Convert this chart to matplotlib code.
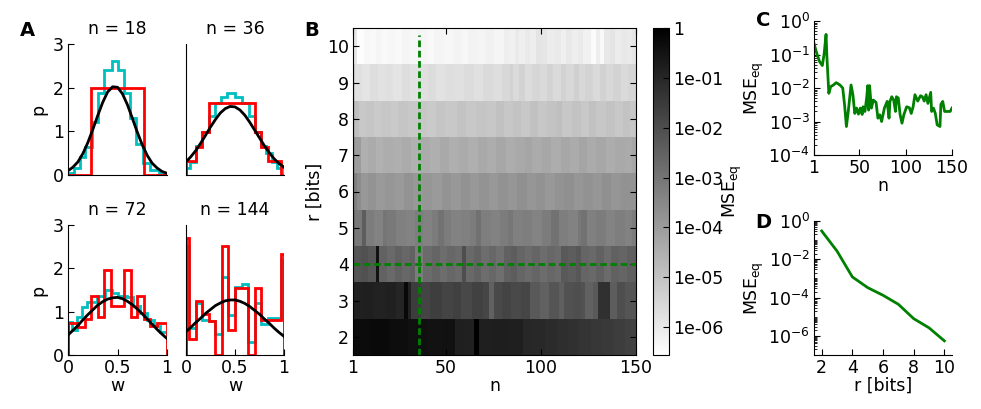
import numpy as np
import matplotlib
matplotlib.use('Agg')
import matplotlib.pyplot as plt
from matplotlib.colors import LogNorm
from matplotlib.ticker import LogLocator, NullFormatter

plt.rcParams['font.family'] = 'DejaVu Sans'
plt.rcParams['font.size'] = 12.5
plt.rcParams['xtick.direction'] = 'in'
plt.rcParams['ytick.direction'] = 'in'
plt.rcParams['xtick.major.size'] = 4
plt.rcParams['ytick.major.size'] = 4
plt.rcParams['xtick.minor.size'] = 2
plt.rcParams['ytick.minor.size'] = 2
plt.rcParams['xtick.major.pad'] = 3
plt.rcParams['ytick.major.pad'] = 3

# ---------------- panel A: distributions of w ----------------
w_grid = [0.0, 0.05, 0.1, 0.15, 0.2, 0.25, 0.3, 0.35, 0.4, 0.45, 0.5,
          0.55, 0.6, 0.65, 0.7, 0.75, 0.8, 0.85, 0.9, 0.95, 1.0]

fit18 = [0.095, 0.18, 0.30, 0.49, 0.74, 1.04, 1.36, 1.66, 1.90, 2.02, 2.01,
         1.86, 1.61, 1.30, 0.98, 0.69, 0.45, 0.27, 0.16, 0.08, 0.04]
fit36 = [0.30, 0.42, 0.56, 0.73, 0.91, 1.10, 1.27, 1.42, 1.52, 1.57, 1.56,
         1.49, 1.37, 1.21, 1.03, 0.85, 0.67, 0.51, 0.37, 0.26, 0.18]
fit72 = [0.46, 0.57, 0.68, 0.81, 0.93, 1.04, 1.15, 1.23, 1.29, 1.32, 1.33,
         1.30, 1.24, 1.16, 1.06, 0.95, 0.83, 0.71, 0.59, 0.48, 0.38]
fit144 = [0.54, 0.64, 0.75, 0.85, 0.96, 1.05, 1.14, 1.20, 1.25, 1.27, 1.27,
          1.24, 1.19, 1.12, 1.03, 0.94, 0.83, 0.73, 0.62, 0.52, 0.43]

red18_edges = [0, 0.233, 0.767, 1.0]
red18 = [0, 2.0, 0]
cyan18_edges = [0, 0.06, 0.12, 0.17, 0.24, 0.30, 0.36, 0.44, 0.50, 0.57,
                0.63, 0.69, 0.76, 0.83, 0.92, 1.0]
cyan18 = [0.04, 0.15, 0.42, 0.65, 1.22, 1.87, 2.41, 2.62, 2.41, 1.87,
          1.3, 0.71, 0.27, 0.11, 0.04]

red36_edges = [0, 0.1, 0.167, 0.233, 0.7, 0.767, 0.833, 0.967, 1.0]
red36 = [0.31, 0.65, 0.98, 1.64, 0.98, 0.65, 0.31, 0]
cyan36_edges = [0, 0.04, 0.1, 0.167, 0.233, 0.296, 0.36, 0.415, 0.5, 0.57,
                0.64, 0.7, 0.767, 0.82, 0.88, 0.93, 1.0]
cyan36 = [0.15, 0.3, 0.66, 0.99, 1.34, 1.66, 1.79, 1.88, 1.79, 1.66,
          1.34, 0.99, 0.66, 0.5, 0.3, 0.15]

red72_edges = [0, 0.1, 0.167, 0.233, 0.3, 0.367, 0.433, 0.567, 0.633, 0.7,
               0.767, 0.833, 0.9, 1.0]
red72 = [0.75, 0.65, 0.84, 1.36, 0.88, 1.96, 1.13, 1.96, 0.88, 1.36,
         0.84, 0.67, 0.75]
cyan72_edges = [0, 0.044, 0.092, 0.146, 0.193, 0.288, 0.373, 0.44, 0.508,
                0.593, 0.661, 0.729, 0.797, 0.864, 0.932, 1.0]
cyan72 = [0.77, 0.58, 0.87, 1.1, 1.23, 1.36, 1.5, 1.42, 1.37, 1.35, 1.12,
          0.96, 0.8, 0.67, 0.54]

red144_edges = [0, 0.033, 0.1, 0.167, 0.233, 0.3, 0.367, 0.433, 0.5, 0.633,
                0.7, 0.767, 0.967, 1.0]
red144 = [2.71, 0.36, 1.25, 0.95, 0.78, 0, 2.52, 0.58, 1.54, 0, 1.54, 0.8, 2.32]
cyan144_edges = [0, 0.033, 0.1, 0.167, 0.233, 0.3, 0.367, 0.433, 0.5, 0.567,
                 0.633, 0.7, 0.767, 0.833, 0.9, 0.967, 1.0]
cyan144 = [2.52, 0.62, 1.2, 0.8, 0.78, 0.48, 1.81, 0.92, 1.56, 1.64, 0.31,
           1.2, 0.72, 0.85, 0.85, 2.19]

# ---------------- panel B: log10 MSE, runs of (first n, value) per r ----------------
runs_r2 = [(1, -0.3), (10, -0.28), (20, -0.35), (30, -0.42), (40, -0.5), (48, -0.48),
           (55, -0.8), (60, -0.85), (65, -0.05), (68, -0.8), (75, -0.78), (82, -0.82),
           (91, -1.0), (97, -1.05), (103, -1.12), (109, -1.2), (115, -1.28), (121, -1.35),
           (127, -1.42), (133, -1.5), (139, -1.58), (145, -1.68)]
runs_r3 = [(1, -0.85), (6, -0.8), (12, -0.9), (18, -0.85), (24, -0.95), (28, -0.25),
           (30, -0.9), (32, -1.55), (37, -1.75), (42, -1.6), (48, -1.75), (54, -1.65),
           (58, -1.85), (64, -1.7), (70, -1.8), (73, -2.5), (76, -1.9), (80, -1.75),
           (85, -1.9), (90, -1.8), (95, -2.3), (100, -2.5), (105, -2.2), (110, -2.45),
           (113, -2.1), (118, -2.0), (122, -2.15), (124, -2.5), (128, -2.3), (131, -1.25),
           (137, -2.4), (141, -2.0), (145, -2.2)]
runs_r4 = [(1, -2.2), (5, -2.1), (9, -2.25), (13, -0.5), (15, -2.55), (19, -2.7),
           (23, -2.5), (27, -2.65), (31, -2.55), (34, -3.2), (38, -2.75), (43, -2.6),
           (47, -2.8), (51, -2.65), (55, -2.75), (59, -2.0), (61, -2.7), (65, -2.55),
           (69, -2.8), (73, -2.65), (77, -2.85), (81, -2.5), (85, -2.4), (88, -2.6),
           (92, -2.75), (96, -2.6), (100, -2.8), (104, -2.65), (108, -2.75), (111, -2.3),
           (115, -2.4), (119, -2.25), (122, -2.6), (126, -2.7), (130, -2.5), (134, -2.75),
           (138, -2.5), (142, -2.6), (146, -2.45)]
runs_r5 = [(1, -2.7), (2, -3.1), (6, -2.4), (8, -3.2), (12, -3.35), (17, -3.0),
           (19, -3.15), (24, -3.3), (29, -3.4), (34, -3.25), (38, -3.35), (43, -3.2),
           (46, -2.95), (49, -3.2), (53, -3.35), (58, -3.3), (63, -3.2), (66, -2.9),
           (69, -3.25), (74, -3.35), (79, -3.2), (83, -3.05), (86, -3.3), (91, -3.25),
           (96, -3.4), (101, -3.2), (106, -2.95), (110, -3.25), (115, -3.35), (120, -3.1),
           (122, -2.95), (125, -3.3), (130, -3.2), (135, -3.4), (140, -3.25), (145, -3.35),
           (149, -3.2)]
runs_r6 = [(1, -3.3), (3, -3.6), (5, -3.9), (9, -3.8), (13, -3.95), (18, -3.85),
           (23, -3.95), (28, -3.8), (33, -3.9), (38, -3.85), (43, -3.95), (48, -3.8),
           (53, -3.9), (58, -3.75), (63, -3.9), (68, -3.8), (73, -3.9), (78, -3.75),
           (83, -3.85), (88, -3.7), (93, -3.85), (98, -3.75), (103, -3.9), (108, -3.8),
           (113, -3.7), (118, -3.85), (123, -3.75), (128, -3.85), (133, -3.7), (138, -3.85),
           (143, -3.75), (148, -3.8)]
runs_r7 = [(1, -3.7), (2, -4.0), (5, -4.5), (9, -4.4), (13, -4.55), (17, -4.45),
           (22, -4.5), (27, -4.4), (32, -4.55), (37, -4.4), (42, -4.5), (47, -4.35),
           (52, -4.5), (57, -4.4), (62, -4.5), (67, -4.35), (72, -4.45), (77, -4.3),
           (82, -4.45), (87, -4.35), (92, -4.25), (96, -4.4), (101, -4.3), (106, -4.45),
           (111, -4.3), (116, -4.4), (121, -4.25), (125, -4.4), (130, -4.3), (135, -4.45),
           (140, -4.35), (145, -4.4), (149, -4.3)]
runs_r8 = [(1, -4.6), (2, -4.9), (4, -5.15), (8, -5.05), (12, -5.2), (16, -5.1),
           (21, -5.2), (25, -5.05), (30, -5.15), (35, -5.1), (40, -5.2), (45, -5.05),
           (50, -5.15), (56, -5.0), (61, -5.15), (66, -5.05), (72, -5.1), (77, -4.95),
           (81, -5.1), (86, -5.0), (90, -5.15), (95, -4.95), (99, -5.1), (104, -5.0),
           (109, -4.9), (112, -5.1), (117, -5.0), (122, -5.15), (126, -4.95), (130, -5.1),
           (135, -5.0), (140, -5.15), (144, -5.0), (148, -5.1)]
runs_r9 = [(1, -5.3), (2, -5.75), (6, -5.85), (10, -5.7), (14, -5.8), (18, -5.75),
           (22, -5.85), (27, -5.7), (31, -5.8), (36, -5.75), (41, -5.65), (45, -5.8),
           (50, -5.7), (55, -5.75), (60, -5.65), (65, -5.75), (70, -5.6), (75, -5.7),
           (80, -5.55), (84, -5.4), (86, -5.6), (89, -5.45), (92, -5.65), (96, -5.5),
           (100, -5.6), (104, -5.45), (107, -5.6), (111, -5.4), (114, -5.55), (118, -5.35),
           (121, -5.55), (124, -5.45), (128, -5.6), (132, -5.4), (135, -5.55), (139, -5.45),
           (143, -5.6), (147, -5.5)]
runs_r10 = [(1, -5.9), (3, -6.5), (7, -6.35), (10, -6.4), (13, -6.3), (16, -6.4),
            (19, -6.35), (23, -6.4), (27, -6.3), (31, -6.35), (35, -6.3), (40, -6.4),
            (44, -6.3), (49, -6.35), (54, -6.25), (58, -6.35), (62, -6.25), (67, -6.3),
            (71, -6.2), (76, -6.3), (81, -6.1), (84, -6.2), (87, -6.0), (89, -6.15),
            (92, -6.0), (95, -6.1), (98, -5.85), (101, -5.9), (104, -6.05), (108, -6.0),
            (111, -6.15), (114, -5.95), (117, -6.1), (120, -6.0), (123, -6.2), (127, -6.45),
            (130, -6.1), (132, -6.4), (134, -5.95), (137, -5.85), (140, -6.05), (143, -5.95),
            (146, -6.0), (149, -5.9)]

# ---------------- panel C: MSE vs n at r = 4 bits ----------------
c_n = [1, 4, 7, 10, 12, 14, 15, 17, 19, 22, 25, 29, 32, 34, 36, 38, 41, 43, 45, 47,
       49, 51, 53, 54, 56, 58, 59, 60, 61, 63, 65, 68, 70, 72, 74, 77, 80, 82, 83, 85,
       87, 89, 90, 92, 94, 96, 98, 101, 104, 106, 108, 110, 113, 116, 118, 120, 122,
       124, 127, 128, 130, 132, 134, 137, 138, 140, 142, 145, 148, 150]
c_log_mse = [-0.67, -0.97, -1.21, -1.33, -0.97, -0.4, -1.11, -2.16, -1.96, -1.91,
             -1.84, -1.91, -2.0, -2.5, -3.15, -2.7, -1.91, -2.2, -2.76, -2.6,
             -2.78, -2.6, -2.79, -2.56, -2.7, -2.26, -1.93, -2.66, -1.93, -2.6,
             -2.36, -2.43, -2.9, -2.8, -3.0, -2.6, -2.4, -2.9, -2.4, -2.26,
             -2.36, -2.7, -2.26, -2.3, -2.8, -3.05, -2.8, -2.56, -2.59, -2.76,
             -2.56, -2.2, -2.39, -2.23, -2.26, -2.39, -2.2, -2.46, -2.13, -2.7,
             -2.6, -2.76, -3.1, -3.15, -2.49, -2.4, -2.7, -2.7, -2.7, -2.6]

# ---------------- panel D: MSE vs r at n = 36 ----------------
d_r = [2, 3, 4, 5, 6, 7, 8, 9, 10]
d_log_mse = [-0.52, -1.57, -2.92, -3.48, -3.88, -4.35, -5.1, -5.58, -6.26]

n_max = 150
r_rows = [runs_r2, runs_r3, runs_r4, runs_r5, runs_r6, runs_r7, runs_r8, runs_r9, runs_r10]


def expand(runs):
    vals = np.zeros(n_max)
    for i, (start, v) in enumerate(runs):
        stop = runs[i + 1][0] if i + 1 < len(runs) else n_max + 1
        vals[start - 1:stop - 1] = v
    return vals


W, H = 981, 409
fig = plt.figure(figsize=(W / 100, H / 100), dpi=100)


def box(left, top, right, bottom):
    return fig.add_axes([left / W, 1 - bottom / H, (right - left) / W, (bottom - top) / H])


# panel A
a_boxes = [(68, 44, 167, 175), (186, 44, 284, 175), (68, 225, 167, 355), (186, 225, 284, 355)]
a_titles = ['n = 18', 'n = 36', 'n = 72', 'n = 144']
a_cyan = [(cyan18_edges, cyan18), (cyan36_edges, cyan36), (cyan72_edges, cyan72), (cyan144_edges, cyan144)]
a_red = [(red18_edges, red18), (red36_edges, red36), (red72_edges, red72), (red144_edges, red144)]
a_fit = [fit18, fit36, fit72, fit144]

for i in range(4):
    ax = box(*a_boxes[i])
    ax.stairs(a_cyan[i][1], a_cyan[i][0], baseline=0, color='c', lw=2)
    ax.stairs(a_red[i][1], a_red[i][0], baseline=0, color='r', lw=2)
    ax.plot(w_grid, a_fit[i], color='k', lw=2)
    ax.set_xlim(0, 1)
    ax.set_ylim(0, 3)
    ax.spines['top'].set_visible(False)
    ax.spines['right'].set_visible(False)
    ax.xaxis.set_ticks_position('bottom')
    ax.yaxis.set_ticks_position('left')
    ax.set_title(a_titles[i], fontsize=12.5, pad=7)
    if i % 2 == 0:
        ax.set_yticks([0, 1, 2, 3])
        ax.set_ylabel('p', labelpad=4)
    else:
        ax.set_yticks([])
    if i >= 2:
        ax.set_xticks([0, 0.5, 1])
        ax.set_xticklabels(['0', '0.5', '1'])
        ax.set_xlabel('w', labelpad=0)
    else:
        ax.set_xticks([])

# panel B
Z = 10 ** np.array([expand(rr) for rr in r_rows])
axb = box(353, 28, 636, 355)
im = axb.imshow(Z, origin='lower', extent=(1, 150, 1.5, 10.5), aspect='auto',
                cmap='gray_r', norm=LogNorm(vmin=2.75e-7, vmax=1), interpolation='nearest')
axb.plot([36, 36], [1.5, 10.3], color='g', ls=(0, (2.4, 1.3)), lw=2)
axb.plot([1, 150], [4, 4], color='g', ls=(0, (2.4, 1.3)), lw=2)
axb.set_xlim(1, 150)
axb.set_ylim(1.5, 10.5)
axb.set_xticks([1, 50, 100, 150])
axb.set_yticks(range(2, 11))
axb.tick_params(top=True, right=True)
axb.set_xlabel('n', labelpad=0)
axb.set_ylabel('r [bits]', labelpad=2)

cax = box(653, 28, 669, 355)
cb = fig.colorbar(im, cax=cax)
cb.set_ticks([1, 1e-1, 1e-2, 1e-3, 1e-4, 1e-5, 1e-6],
             labels=['1', '1e-01', '1e-02', '1e-03', '1e-04', '1e-05', '1e-06'])
cb.ax.minorticks_off()
cb.ax.tick_params(direction='in', length=4)
cb.set_label('MSE$_{\\mathrm{eq}}$', labelpad=-2)

# panel C
axc = box(814, 21, 952, 155)
axc.semilogy(c_n, 10 ** np.array(c_log_mse), color='g', lw=2)
axc.set_xlim(1, 150)
axc.set_ylim(1e-4, 1)
axc.set_xticks([1, 50, 100, 150])
axc.set_yticks([1, 1e-1, 1e-2, 1e-3, 1e-4])
axc.yaxis.set_minor_locator(LogLocator(base=10, subs=np.arange(2, 10), numticks=30))
axc.yaxis.set_minor_formatter(NullFormatter())
axc.spines['top'].set_visible(False)
axc.spines['right'].set_visible(False)
axc.xaxis.set_ticks_position('bottom')
axc.yaxis.set_ticks_position('left')
axc.set_xlabel('n', labelpad=0)
axc.set_ylabel('MSE$_{\\mathrm{eq}}$', labelpad=2)

# panel D
axd = box(814, 221, 952, 355)
axd.semilogy(d_r, 10 ** np.array(d_log_mse), color='g', lw=2)
axd.set_xlim(1.5, 10.5)
axd.set_ylim(1e-7, 1)
axd.set_xticks([2, 4, 6, 8, 10])
axd.set_yticks([1, 1e-2, 1e-4, 1e-6])
axd.yaxis.set_minor_locator(LogLocator(base=10, subs=np.arange(1, 10), numticks=30))
axd.yaxis.set_minor_formatter(NullFormatter())
axd.spines['top'].set_visible(False)
axd.spines['right'].set_visible(False)
axd.xaxis.set_ticks_position('bottom')
axd.yaxis.set_ticks_position('left')
axd.set_xlabel('r [bits]', labelpad=0)
axd.set_ylabel('MSE$_{\\mathrm{eq}}$', labelpad=2)

for lab, x, y in [('A', 27, 30), ('B', 312, 31), ('C', 763, 20), ('D', 763, 223)]:
    fig.text(x / W, 1 - y / H, lab, fontsize=14, weight='bold', ha='center', va='center')

fig.savefig('out.png', dpi=100)
